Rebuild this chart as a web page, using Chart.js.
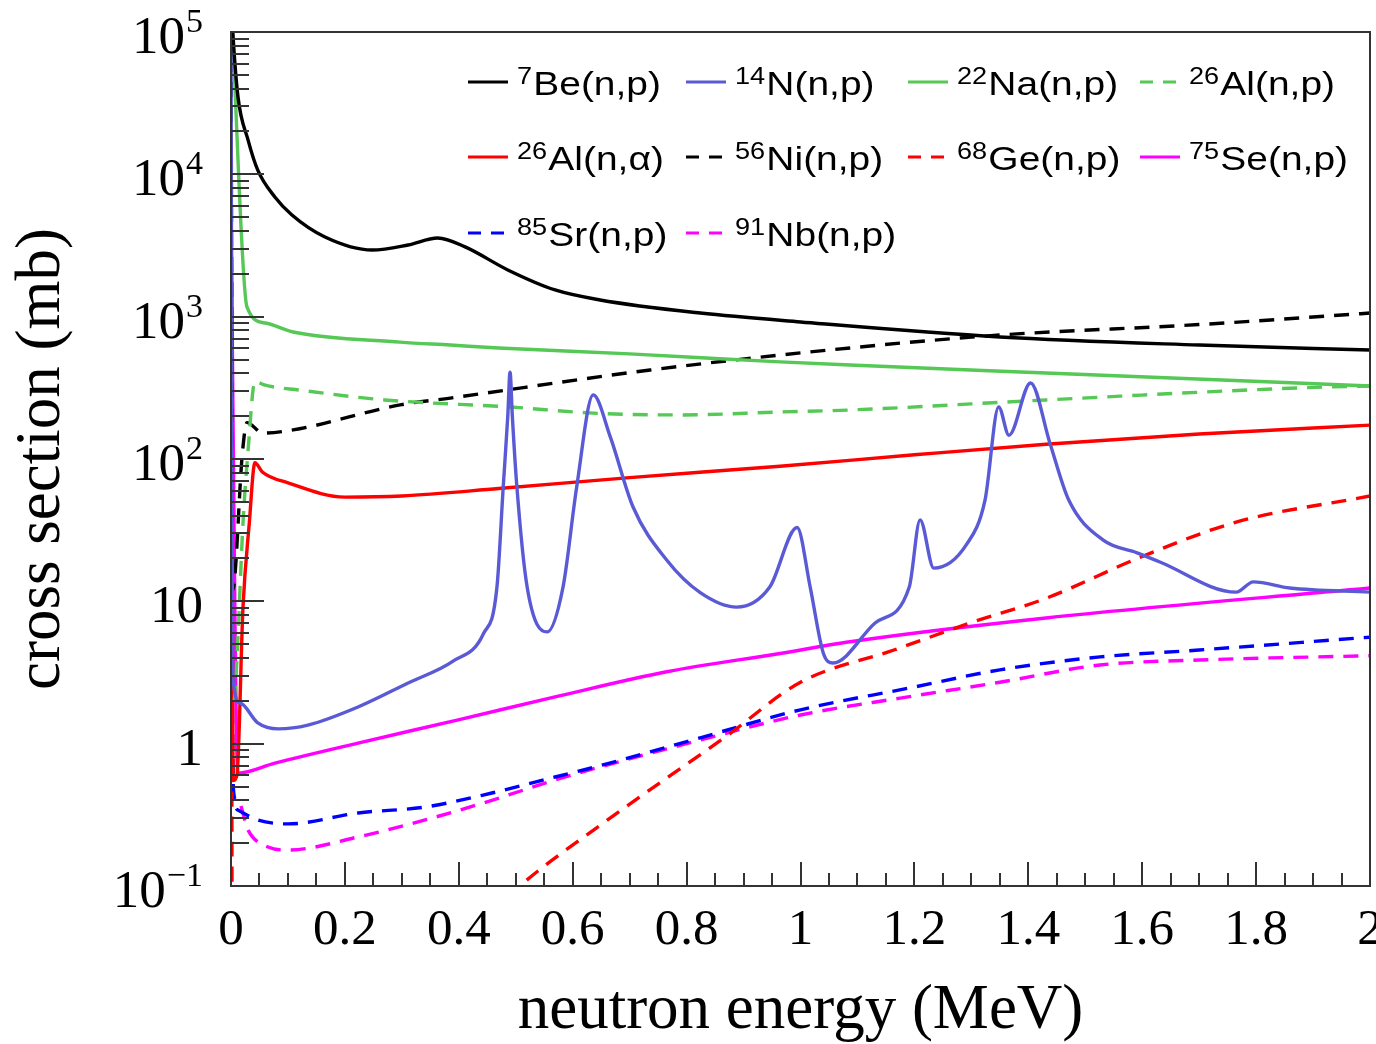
<!DOCTYPE html>
<html>
<head>
<meta charset="utf-8">
<script src="https://cdn.jsdelivr.net/npm/chart.js@4.4.1/dist/chart.umd.min.js"></script>
<style>
  html, body { margin: 0; padding: 0; background: #fff; }
  #chart { display: block; }
</style>
</head>
<body>
<canvas id="chart" width="1376" height="1044"></canvas>
<script>
// Ejes
const xTickValues = [0, 0.2, 0.4, 0.6, 0.8, 1, 1.2, 1.4, 1.6, 1.8, 2];
const xTickLabels = ['0', '0.2', '0.4', '0.6', '0.8', '1', '1.2', '1.4', '1.6', '1.8', '2'];
const yTickValues = [0.1, 1, 10, 100, 1000, 10000, 100000];
const yTickBase = ['10', '1', '10', '10', '10', '10', '10'];
const yTickExp = ['\u22121', '', '', '2', '3', '4', '5'];

// Leyenda: número másico + reacción
const massNumbers = ['7', '14', '22', '26', '26', '56', '68', '75', '85', '91'];
const reactions = ['Be(n,p)', 'N(n,p)', 'Na(n,p)', 'Al(n,p)', 'Al(n,\u03b1)', 'Ni(n,p)', 'Ge(n,p)', 'Se(n,p)', 'Sr(n,p)', 'Nb(n,p)'];

// Secciones eficaces (MeV, mb)
const be7E = [0.001, 0.0035, 0.0123, 0.03, 0.047, 0.077, 0.107, 0.165, 0.248, 0.311, 0.363, 0.411, 0.486, 0.569, 0.648, 0.824, 1.0, 1.35, 1.7, 2.0];
const be7S = [150000, 95000, 34900, 17400, 10700, 6930, 5180, 3630, 2940, 3190, 3570, 3090, 2130, 1540, 1310, 1060, 918, 720, 632, 583];

const n14E = [0, 0.003, 0.016, 0.047, 0.083, 0.135, 0.223, 0.311, 0.39, 0.443, 0.467, 0.478, 0.486, 0.49, 0.494, 0.502, 0.52, 0.555, 0.583, 0.607, 0.636, 0.666, 0.706, 0.765, 0.824, 0.888, 0.946, 0.994, 1.017, 1.04, 1.057, 1.131, 1.191, 1.21, 1.234, 1.291, 1.324, 1.348, 1.366, 1.404, 1.438, 1.471, 1.531, 1.591, 1.631, 1.765, 1.795, 1.859, 2.0];
const n14S = [100000, 3.0, 1.93, 1.40, 1.27, 1.35, 1.81, 2.67, 3.8, 5.9, 12.6, 63.6, 200, 408, 200, 63.6, 12.6, 6.1, 12.6, 63.6, 282, 143, 46, 19.5, 11.5, 9.1, 12.6, 33, 12.6, 4.34, 3.69, 7.05, 12.6, 37.3, 17.1, 24.9, 51.5, 232, 147, 342, 129, 51.5, 27, 21.9, 18.9, 11.6, 13.7, 12.4, 11.6];

const na22E = [0.002, 0.028, 0.06, 0.109, 0.297, 0.385, 0.47, 0.70, 0.964, 1.087, 1.431, 2.0];
const na22S = [110000, 1170, 903, 780, 663, 632, 602, 548, 481, 457, 402, 326];

const al26npE = [0.006, 0.0105, 0.021, 0.03, 0.042, 0.06, 0.12, 0.27, 0.49, 0.636, 0.79, 0.964, 1.087, 1.431, 1.877, 2.0];
const al26npS = [2, 4, 35, 115, 350, 330, 305, 260, 232, 210, 204, 214, 221, 260, 316, 326];

const al26naE = [0, 0.004, 0.0105, 0.021, 0.032, 0.042, 0.055, 0.10, 0.2, 0.3, 0.47, 0.7, 0.964, 1.2, 1.431, 1.7, 2.0];
const al26naS = [20000, 0.55, 0.6, 9, 35, 94, 81, 68, 54, 55, 62, 74, 89, 107, 127, 150, 173];

const ni56E = [0, 0.003, 0.02, 0.028, 0.056, 0.109, 0.297, 0.385, 0.736, 1.087, 1.35, 1.7, 2.0];
const ni56S = [100000, 12, 110, 180, 152, 160, 240, 268, 422, 603, 743, 880, 1060];

const ge68E = [0, 0.003, 0.45, 0.507, 0.65, 0.87, 1.0, 1.164, 1.298, 1.431, 1.598, 1.765, 2.0];
const ge68S = [17000, 0.001, 0.06, 0.1, 0.27, 1.13, 2.7, 4.55, 7.05, 10.5, 20.5, 36, 55];

const se75E = [0, 0.012, 0.077, 0.223, 0.399, 0.569, 0.765, 0.964, 1.087, 1.431, 2.0];
const se75S = [5000, 0.62, 0.73, 1.01, 1.47, 2.13, 3.2, 4.3, 5.2, 7.64, 12.4];

const sr85E = [0, 0.004, 0.012, 0.047, 0.1, 0.223, 0.341, 0.458, 0.569, 0.648, 0.824, 1.0, 1.191, 1.35, 1.526, 1.7, 2.0];
const sr85S = [150, 0.5, 0.342, 0.291, 0.273, 0.326, 0.359, 0.45, 0.583, 0.7, 1.1, 1.73, 2.46, 3.3, 4.07, 4.55, 5.6];

const nb91E = [0, 0.004, 0.012, 0.03, 0.065, 0.1, 0.223, 0.341, 0.458, 0.569, 0.824, 1.0, 1.175, 1.35, 1.526, 1.7, 2.0];
const nb91S = [100, 0.45, 0.40, 0.247, 0.188, 0.179, 0.221, 0.291, 0.40, 0.556, 1.06, 1.59, 2.09, 2.7, 3.57, 3.87, 4.15];

const series = [
  [be7E, be7S], [n14E, n14S], [na22E, na22S], [al26npE, al26npS], [al26naE, al26naS],
  [ni56E, ni56S], [ge68E, ge68S], [se75E, se75S], [sr85E, sr85S], [nb91E, nb91S]
];

// Estilos de línea
const colores = ['#000000', '#5a5ad6', '#55c855', '#55c855', '#ff0000', '#000000', '#ff0000', '#ff00ff', '#0000ff', '#ff00ff'];
const guiones = [null, null, null, [15, 10], null, [15, 10], [15, 10], null, [15, 10], [15, 10]];

const datasets = series.map((s, i) => ({
  label: massNumbers[i] + reactions[i],
  mass: massNumbers[i],
  reaction: reactions[i],
  data: s[0].map((e, j) => ({ x: e, y: s[1][j] })),
  borderColor: colores[i],
  borderWidth: 3.4,
  borderDash: guiones[i] || [],
  pointRadius: 0,
  fill: false,
  cubicInterpolationMode: 'monotone'
}));

// Marcas de los ejes hacia dentro, marco y etiquetas 10^n (estilo ROOT)
const marcoEjes = {
  id: 'marcoEjes',
  afterDatasetsDraw(chart) {
    const { ctx, chartArea: a, scales: { x, y } } = chart;
    ctx.save();
    ctx.strokeStyle = '#333';
    ctx.lineWidth = 2;
    ctx.beginPath();
    for (let e = -1; e <= 5; e++) {
      for (let k = 1; k <= 9; k++) {
        const v = k * Math.pow(10, e);
        if (v < y.min * 0.999 || v > y.max * 1.001) continue;
        const py = Math.round(y.getPixelForValue(v));
        ctx.moveTo(a.left, py);
        ctx.lineTo(a.left + (k === 1 ? 33 : 18), py);
      }
    }
    for (let i = 0; i <= 40; i++) {
      const px = Math.round(x.getPixelForValue(i * 0.05));
      ctx.moveTo(px, a.bottom);
      ctx.lineTo(px, a.bottom - (i % 4 === 0 ? 24 : 13));
    }
    ctx.stroke();
    ctx.strokeRect(a.left, a.top, a.right - a.left, a.bottom - a.top);

    // etiquetas del eje y con exponente
    ctx.fillStyle = '#000';
    ctx.textAlign = 'right';
    ctx.textBaseline = 'alphabetic';
    const xr = a.left - 28;
    yTickValues.forEach((v, i) => {
      const py = y.getPixelForValue(v);
      const base = py + 21;
      let w = 0;
      if (yTickExp[i]) {
        ctx.font = '34px "Liberation Serif"';
        ctx.fillText(yTickExp[i], xr, base - 21);
        w = ctx.measureText(yTickExp[i]).width + 1;
      }
      ctx.font = '53px "Liberation Serif"';
      ctx.fillText(yTickBase[i], xr - w, base);
    });
    ctx.restore();
  }
};

// Leyenda dentro del área, 4 columnas
const leyenda = {
  id: 'leyenda',
  afterDraw(chart) {
    const ctx = chart.ctx;
    const colX = [468, 686, 908, 1140];
    const rowY = [82, 157, 233];
    chart.data.datasets.forEach((ds, i) => {
      const x0 = colX[i % 4];
      const y0 = rowY[Math.floor(i / 4)];
      ctx.save();
      ctx.strokeStyle = ds.borderColor;
      ctx.lineWidth = 3;
      ctx.setLineDash(ds.borderDash.length ? [13, 10] : []);
      ctx.beginPath();
      ctx.moveTo(x0, y0);
      ctx.lineTo(x0 + 40, y0);
      ctx.stroke();
      ctx.setLineDash([]);
      ctx.translate(x0 + 49, y0 + 13);
      ctx.scale(1.18, 1);
      ctx.fillStyle = '#000';
      ctx.textAlign = 'left';
      ctx.textBaseline = 'alphabetic';
      ctx.font = '23px "Liberation Sans"';
      ctx.fillText(ds.mass, 0, -11);
      const w = ctx.measureText(ds.mass).width;
      ctx.font = '33px "Liberation Sans"';
      ctx.fillText(ds.reaction, w + 1, 0);
      ctx.restore();
    });
  }
};

const ctx = document.getElementById('chart').getContext('2d');
const grafica = new Chart(ctx, {
  type: 'line',
  data: { datasets: datasets },
  options: {
    responsive: false,
    devicePixelRatio: 1,
    animation: false,
    layout: { padding: { top: 32, right: 6, left: 0, bottom: 0 } },
    plugins: { legend: { display: false }, tooltip: { enabled: false } },
    scales: {
      x: {
        type: 'linear',
        min: 0,
        max: 2,
        grid: { display: false, drawTicks: false },
        border: { display: false },
        afterBuildTicks: (scale) => { scale.ticks = xTickValues.map(v => ({ value: v })); },
        afterFit: (scale) => { scale.height = 158; scale.paddingLeft = 0; scale.paddingRight = 0; },
        ticks: {
          autoSkip: false,
          maxRotation: 0,
          minRotation: 0,
          padding: 14,
          color: '#000',
          font: { family: 'Liberation Serif', size: 51 },
          callback: (v, i) => xTickLabels[i]
        },
        title: {
          display: true,
          text: 'neutron energy (MeV)',
          color: '#000',
          font: { family: 'Liberation Serif', size: 63, lineHeight: 1.0 },
          padding: { top: 0, bottom: 1 }
        }
      },
      y: {
        type: 'logarithmic',
        min: 0.1,
        max: 100000,
        grid: { display: false, drawTicks: false },
        border: { display: false },
        afterBuildTicks: (scale) => { scale.ticks = yTickValues.map(v => ({ value: v })); },
        afterFit: (scale) => { scale.width = 231; scale.paddingTop = 0; scale.paddingBottom = 0; },
        ticks: { display: false },
        title: {
          display: true,
          text: 'cross section (mb)',
          color: '#000',
          font: { family: 'Liberation Serif', size: 63, lineHeight: 1.1 },
          padding: { top: 8, bottom: 0 }
        }
      }
    }
  },
  plugins: [marcoEjes, leyenda]
});
</script>
</body>
</html>
